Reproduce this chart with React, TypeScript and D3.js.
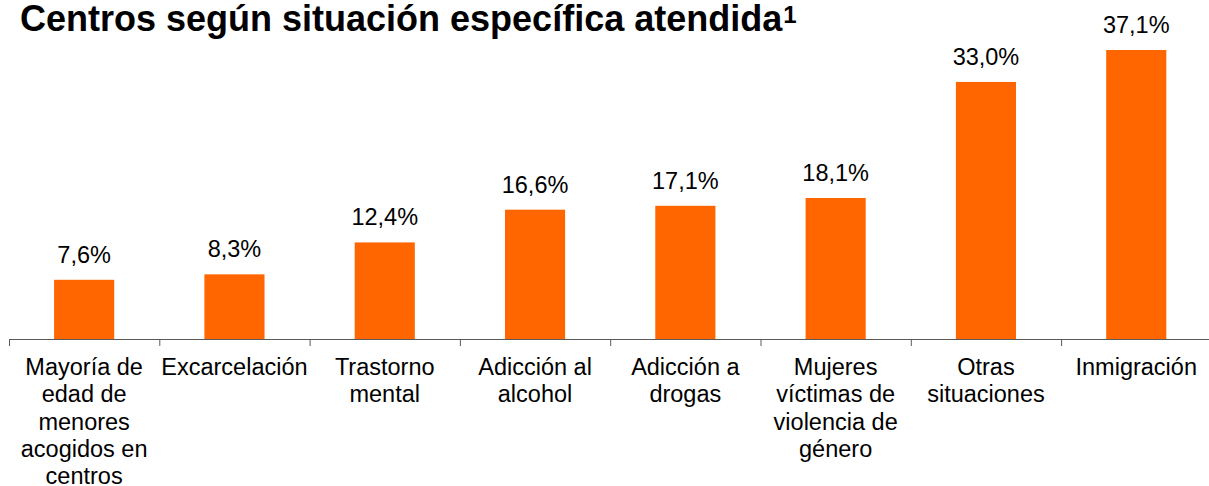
import React, { useMemo } from "react";
import * as d3 from "d3";

const W = 1209;
const H = 486;

const categories: string[] = [
  "Mayoría de edad de menores acogidos en centros",
  "Excarcelación",
  "Trastorno mental",
  "Adicción al alcohol",
  "Adicción a drogas",
  "Mujeres víctimas de violencia de género",
  "Otras situaciones",
  "Inmigración",
];
const values: number[] = [7.6, 8.3, 12.4, 16.6, 17.1, 18.1, 33.0, 37.1];
const valueLabels: string[] = ["7,6%", "8,3%", "12,4%", "16,6%", "17,1%", "18,1%", "33,0%", "37,1%"];

const title = "Centros según situación específica atendida";
const titleNote = "1";

const FONT = "'Liberation Sans', Arial, Helvetica, sans-serif";
const LABEL_SIZE = 23.5;
const ORANGE = "#FF6600";

function wrap(text: string, maxW: number, font: string): string[] {
  const canvas = document.createElement("canvas");
  const ctx = canvas.getContext("2d")!;
  ctx.font = font;
  const words = text.split(" ");
  const lines: string[] = [];
  let cur = "";
  for (const w of words) {
    const t = cur ? cur + " " + w : w;
    if (cur && ctx.measureText(t).width > maxW) {
      lines.push(cur);
      cur = w;
    } else cur = t;
  }
  if (cur) lines.push(cur);
  return lines;
}

export default function App() {
  const x = d3.scaleBand<string>().domain(categories).range([9, 1211.4]).paddingInner(0).paddingOuter(0);
  const y = d3.scaleLinear().domain([0, 37.1]).range([339, 50]);
  const barW = x.bandwidth() * 0.4;
  const axisY = y(0);

  const wrapped = useMemo(
    () => categories.map((c) => wrap(c, 148, `${LABEL_SIZE}px ${FONT}`)),
    []
  );

  return (
    <svg
      width={W}
      height={H}
      style={{ position: "absolute", left: 0, top: 0, background: "#fff" }}
      fontFamily={FONT}
    >
      <rect x={0} y={0} width={W} height={H} fill="#fff" />
      <text x={20} y={31} fontSize={36} fontWeight="bold" fill="#000">
        {title}
        <tspan fontSize={24} fontWeight="bold" dy={-8} dx={1}>{titleNote}</tspan>
      </text>

      {categories.map((c, i) => {
        const cx = (x(c) as number) + x.bandwidth() / 2;
        return (
          <g key={c}>
            <rect x={cx - barW / 2} y={y(values[i])} width={barW} height={axisY - y(values[i])} fill={ORANGE} />
            <text x={cx} y={y(values[i]) - 17} textAnchor="middle" fontSize={LABEL_SIZE} fill="#000">
              {valueLabels[i]}
            </text>
            <text x={cx} y={375} textAnchor="middle" fontSize={LABEL_SIZE} fill="#000">
              {wrapped[i].map((l, k) => (
                <tspan key={k} x={cx} dy={k === 0 ? 0 : 27.3}>{l}</tspan>
              ))}
            </text>
          </g>
        );
      })}

      <line x1={x.range()[0]} x2={W} y1={axisY + 0.5} y2={axisY + 0.5} stroke="#5a5a5a" strokeWidth={1} />
      {categories.map((c) => (
        <line key={"t" + c} x1={(x(c) as number) + 0.5} x2={(x(c) as number) + 0.5} y1={axisY} y2={axisY + 7} stroke="#5a5a5a" strokeWidth={1} />
      ))}
    </svg>
  );
}
